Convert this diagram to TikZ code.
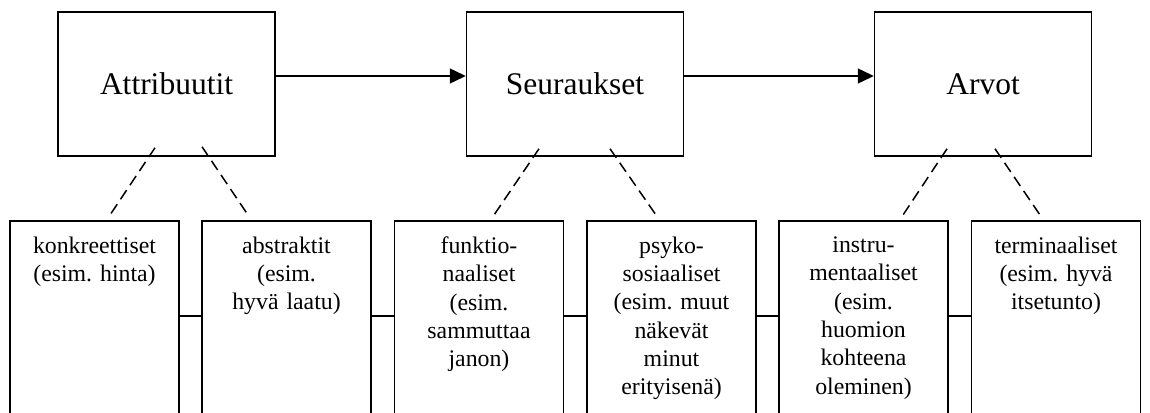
\documentclass[tikz,border=0pt]{standalone}
\usepackage{fontspec}
\setmainfont{Liberation Serif}
\usetikzlibrary{arrows.meta}
\frenchspacing

\begin{document}
\begin{tikzpicture}[x=1pt, y=-1pt,
    taso/.style ={rectangle, draw, line width=1.5pt, minimum width=217pt, minimum height=144pt, inner sep=0pt, font=\fontsize{31.5}{38}\selectfont},
    luokka/.style ={rectangle, draw, line width=1.5pt, anchor=north, text width=150pt, inner xsep=9.5pt, inner ysep=16pt, text depth=260pt, align=center, font=\fontsize{23.8}{28.3}\selectfont},
    yhteys/.style ={line width=1.5pt, dash pattern=on 11pt off 6pt}]
   \useasboundingbox (0,0) rectangle (1150,412);
   \clip (0,0) rectangle (1150,412);

   \node[taso] (attr)  at (166.5,84) {Attribuutit};
   \node[taso] (seur)  at (575,84)   {Seuraukset};
   \node[taso] (arvot) at (983,84)   {Arvot};

   \node[luokka] (konkr) at (94.5,220)  {konkreettiset\\(esim. hinta)};
   \node[luokka] (abstr) at (286.5,220) {abstraktit\\(esim.\\hyvä laatu)};
   \node[luokka] (funkt) at (479,220)   {funktio-\\naaliset\\(esim.\\sammuttaa\\janon)};
   \node[luokka] (psyko) at (671.5,220) {psyko-\\sosiaaliset\\(esim. muut\\näkevät\\minut\\erityisenä)};
   \node[luokka] (instr) at (863.5,220) {instru-\\mentaaliset\\(esim.\\huomion\\kohteena\\oleminen)};
   \node[luokka] (termi) at (1056,220)  {terminaaliset\\(esim. hyvä\\itsetunto)};

   \draw[line width=1.5pt, -{Triangle[length=16pt,width=15pt]}] ([yshift=8pt]attr.east) -- ([yshift=8pt]seur.west);
   \draw[line width=1.5pt, -{Triangle[length=16pt,width=15pt]}] ([yshift=8pt]seur.east) -- ([yshift=8pt]arvot.west);

   \draw[yhteys] ([xshift=-11.5pt,yshift=9pt]attr.south) -- ([xshift=15.5pt,yshift=5pt]konkr.north);
   \draw[yhteys] ([xshift=35.5pt,yshift=10pt]attr.south) -- ([xshift=-38.5pt,yshift=5pt]abstr.north);
   \draw[yhteys] ([xshift=-36pt,yshift=8pt]seur.south) -- ([xshift=15pt,yshift=5pt]funkt.north);
   \draw[yhteys] ([xshift=35pt,yshift=8pt]seur.south) -- ([xshift=-15.5pt,yshift=5pt]psyko.north);
   \draw[yhteys] ([xshift=-36pt,yshift=8pt]arvot.south) -- ([xshift=39.5pt,yshift=5pt]instr.north);
   \draw[yhteys] ([xshift=12pt,yshift=8pt]arvot.south) -- ([xshift=-16pt,yshift=5pt]termi.north);

   \draw[line width=1.5pt] ([yshift=-96pt]konkr.north east) -- ([yshift=-96pt]abstr.north west);
   \draw[line width=1.5pt] ([yshift=-96pt]abstr.north east) -- ([yshift=-96pt]funkt.north west);
   \draw[line width=1.5pt] ([yshift=-96pt]funkt.north east) -- ([yshift=-96pt]psyko.north west);
   \draw[line width=1.5pt] ([yshift=-96pt]psyko.north east) -- ([yshift=-96pt]instr.north west);
   \draw[line width=1.5pt] ([yshift=-96pt]instr.north east) -- ([yshift=-96pt]termi.north west);
%   \draw[yhteys] (konkr) -- (termi);
 \end{tikzpicture}
\end{document}
